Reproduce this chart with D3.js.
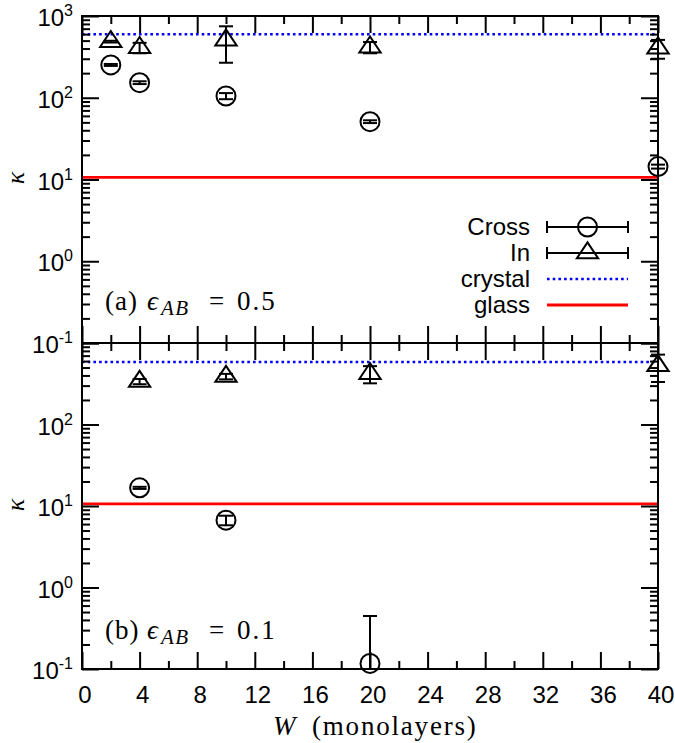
<!DOCTYPE html>
<html><head><meta charset="utf-8">
<script src="https://cdn.jsdelivr.net/npm/d3@7"></script>
<style>body{margin:0;background:#fff}svg{display:block}</style>
</head><body>
<svg id="c" width="675" height="743"></svg>
<script>
// ---- data ----
const wA = [2, 4, 10, 20, 40];
const crossA = [252, 153, 105, 51, 14.4];
const crossAErr = [7, 6, 9, 2, 0.8];
const inA = [486, 410, 508, 415, 405];
const inAErr = [12, 60, 240, 65, 105];

const wCrossB = [4, 10, 20];
const crossB = [16.7, 6.7, 0.117];
const crossBErr = [0.5, 0.9, 0.33];
const wInB = [4, 10, 20, 40];
const inB = [337, 388, 420, 526];
const inBErr = [25, 30, 100, 194];

const crystalVals = [597, 585];
const glassVals = [10.6, 10.6];

const xMajor = [0, 4, 8, 12, 16, 20, 24, 28, 32, 36, 40];
const xMinor = [2, 6, 10, 14, 18, 22, 26, 30, 34, 38];
const yDecades = [0.1, 1, 10, 100, 1000];
const yExp = ["-1", "0", "1", "2", "3"];
const legendLabels = ["Cross", "In", "crystal", "glass"];
const panelTags = ["(a)", "(b)"];
const panelEps = ["0.5", "0.1"];

// ---- layout ----
const svg = d3.select("#c");
const L = 82, R = 658;
const panels = [{top: 16, bot: 343}, {top: 343, bot: 669}];
const x = d3.scaleLinear().domain([0, 40]).range([L, R]);
const yMinor = [];
for (let d = 0.1; d < 1000; d *= 10) for (let k = 2; k <= 9; k++) yMinor.push(+(d * k).toPrecision(3));

const black = "#000";
const sw = 2;
const sans = "Liberation Sans, Arial, sans-serif";
const serif = "Liberation Serif, DejaVu Serif, serif";

function drawTriangle(g, cx, cy) {
  const v = 8, h = 8;
  g.append("path")
    .attr("d", `M${cx},${cy - 4 * v / 3}L${cx - 4 * h / 3},${cy + 2 * v / 3}L${cx + 4 * h / 3},${cy + 2 * v / 3}Z`)
    .attr("fill", "none").attr("stroke", black).attr("stroke-width", sw);
}
function drawCircle(g, cx, cy) {
  g.append("circle").attr("cx", cx).attr("cy", cy).attr("r", 9.5)
    .attr("fill", "none").attr("stroke", black).attr("stroke-width", sw);
}
function drawErr(g, y, cx, v, e) {
  const lo = v - e, hi = v + e;
  const yHi = y(hi);
  const loClamped = lo <= y.domain()[0];
  const yLo = loClamped ? y.range()[0] : y(lo);
  g.append("line").attr("x1", cx).attr("x2", cx).attr("y1", yHi).attr("y2", yLo)
    .attr("stroke", black).attr("stroke-width", sw);
  g.append("line").attr("x1", cx - 7).attr("x2", cx + 7).attr("y1", yHi).attr("y2", yHi)
    .attr("stroke", black).attr("stroke-width", sw);
  if (!loClamped)
    g.append("line").attr("x1", cx - 7).attr("x2", cx + 7).attr("y1", yLo).attr("y2", yLo)
      .attr("stroke", black).attr("stroke-width", sw);
}

function styleAxis(sel) {
  sel.select(".domain").remove();
  sel.selectAll(".tick line").attr("stroke", black).attr("stroke-width", sw);
  sel.selectAll(".tick text").remove();
}

function stext(g, xx, yy, str, size, opts = {}) {
  const t = g.append("text").attr("x", xx).attr("y", yy).attr("font-family", serif)
    .attr("font-size", size).attr("fill", black).text(str);
  if (opts.italic) t.attr("font-style", "italic");
  if (opts.ls) t.attr("letter-spacing", opts.ls);
  return t;
}

panels.forEach((p, pi) => {
  const y = d3.scaleLog().domain([0.1, 1000]).range([p.bot, p.top]);
  p.y = y;
  const g = svg.append("g");

  // reference lines
  g.append("line").attr("x1", L).attr("x2", R).attr("y1", y(crystalVals[pi])).attr("y2", y(crystalVals[pi]))
    .attr("stroke", "#0000ff").attr("stroke-width", 2.6).attr("stroke-dasharray", "2.6,3.1");
  g.append("line").attr("x1", L).attr("x2", R).attr("y1", y(glassVals[pi])).attr("y2", y(glassVals[pi]))
    .attr("stroke", "#ff0000").attr("stroke-width", 2.8);

  // axes ticks (inward)
  g.append("g").attr("transform", `translate(0,${p.top})`).call(d3.axisTop(x).tickValues(xMajor).tickSize(-17)).call(styleAxis);
  g.append("g").attr("transform", `translate(0,${p.top})`).call(d3.axisTop(x).tickValues(xMinor).tickSize(-8)).call(styleAxis);
  g.append("g").attr("transform", `translate(0,${p.bot})`).call(d3.axisBottom(x).tickValues(xMajor).tickSize(-17)).call(styleAxis);
  g.append("g").attr("transform", `translate(0,${p.bot})`).call(d3.axisBottom(x).tickValues(xMinor).tickSize(-8)).call(styleAxis);
  g.append("g").attr("transform", `translate(${L},0)`).call(d3.axisLeft(y).tickValues(yDecades).tickSize(-17)).call(styleAxis);
  g.append("g").attr("transform", `translate(${L},0)`).call(d3.axisLeft(y).tickValues(yMinor).tickSize(-8)).call(styleAxis);
  g.append("g").attr("transform", `translate(${R},0)`).call(d3.axisRight(y).tickValues(yDecades).tickSize(-17)).call(styleAxis);
  g.append("g").attr("transform", `translate(${R},0)`).call(d3.axisRight(y).tickValues(yMinor).tickSize(-8)).call(styleAxis);

  // frame
  g.append("rect").attr("x", L).attr("y", p.top).attr("width", R - L).attr("height", p.bot - p.top)
    .attr("fill", "none").attr("stroke", black).attr("stroke-width", sw);

  // y tick labels
  yDecades.forEach((d, i) => {
    if (pi === 1 && d === 1000) return; // shared boundary shows 10^-1
    const t = g.append("text").attr("x", 73).attr("y", y(d) + 10).attr("text-anchor", "end")
      .attr("font-family", sans).attr("font-size", 24).attr("fill", black);
    t.append("tspan").text("10");
    t.append("tspan").attr("font-size", 16).attr("dy", -10).text(yExp[i]);
  });

  // kappa label
  g.append("text").attr("transform", `translate(24,${pi === 0 ? 178 : 505}) rotate(-90)`)
    .attr("text-anchor", "middle").attr("font-family", serif).attr("font-style", "italic")
    .attr("font-size", 26).attr("fill", black).text("κ");

  // panel label  (a) ϵ_AB = 0.5
  const by = pi === 0 ? 310 : 639;
  stext(g, 105, by, panelTags[pi], 27, {ls: 1});
  stext(g, 147, by, "ϵ", 27, {italic: true});
  stext(g, 161, by + 5, "AB", 21, {italic: true, ls: 1.5});
  stext(g, 209, by, "=", 27);
  stext(g, 237, by, panelEps[pi], 27, {ls: 2});
});

// ---- data marks ----
const gA = svg.append("g"), yA = panels[0].y;
wA.forEach((w, i) => { drawErr(gA, yA, x(w), crossA[i], crossAErr[i]); drawCircle(gA, x(w), yA(crossA[i])); });
wA.forEach((w, i) => { drawErr(gA, yA, x(w), inA[i], inAErr[i]); drawTriangle(gA, x(w), yA(inA[i])); });
const gB = svg.append("g"), yB = panels[1].y;
wCrossB.forEach((w, i) => { drawErr(gB, yB, x(w), crossB[i], crossBErr[i]); drawCircle(gB, x(w), yB(crossB[i])); });
wInB.forEach((w, i) => { drawErr(gB, yB, x(w), inB[i], inBErr[i]); drawTriangle(gB, x(w), yB(inB[i])); });

// x tick labels
xMajor.forEach(v => {
  svg.append("text").attr("x", x(v) + 3).attr("y", 703).attr("text-anchor", "middle")
    .attr("font-family", sans).attr("font-size", 24).attr("fill", black).text(v);
});
// x axis title
stext(svg, 273, 735, "W", 27, {italic: true});
stext(svg, 312, 735, "(monolayers)", 27, {ls: 1.8});

// ---- legend ----
const lg = svg.append("g");
const lx1 = 547, lx2 = 628, lxm = (lx1 + lx2) / 2;
const rows = [227, 253, 279, 305];
legendLabels.forEach((lab, i) => {
  lg.append("text").attr("x", 530).attr("y", rows[i] + 8).attr("text-anchor", "end")
    .attr("font-family", sans).attr("font-size", 24).attr("fill", black).text(lab);
});
[0, 1].forEach(i => {
  const yy = rows[i];
  lg.append("line").attr("x1", lx1).attr("x2", lx2).attr("y1", yy).attr("y2", yy).attr("stroke", black).attr("stroke-width", sw);
  [lx1, lx2].forEach(xx => lg.append("line").attr("x1", xx).attr("x2", xx).attr("y1", yy - 6).attr("y2", yy + 6).attr("stroke", black).attr("stroke-width", sw));
});
drawCircle(lg, lxm, rows[0]);
drawTriangle(lg, lxm, rows[1]);
lg.append("line").attr("x1", lx1).attr("x2", lx2).attr("y1", rows[2]).attr("y2", rows[2])
  .attr("stroke", "#0000ff").attr("stroke-width", 2.6).attr("stroke-dasharray", "2.6,3.1");
lg.append("line").attr("x1", lx1).attr("x2", lx2).attr("y1", rows[3]).attr("y2", rows[3])
  .attr("stroke", "#ff0000").attr("stroke-width", 2.8);
</script>
</body></html>
